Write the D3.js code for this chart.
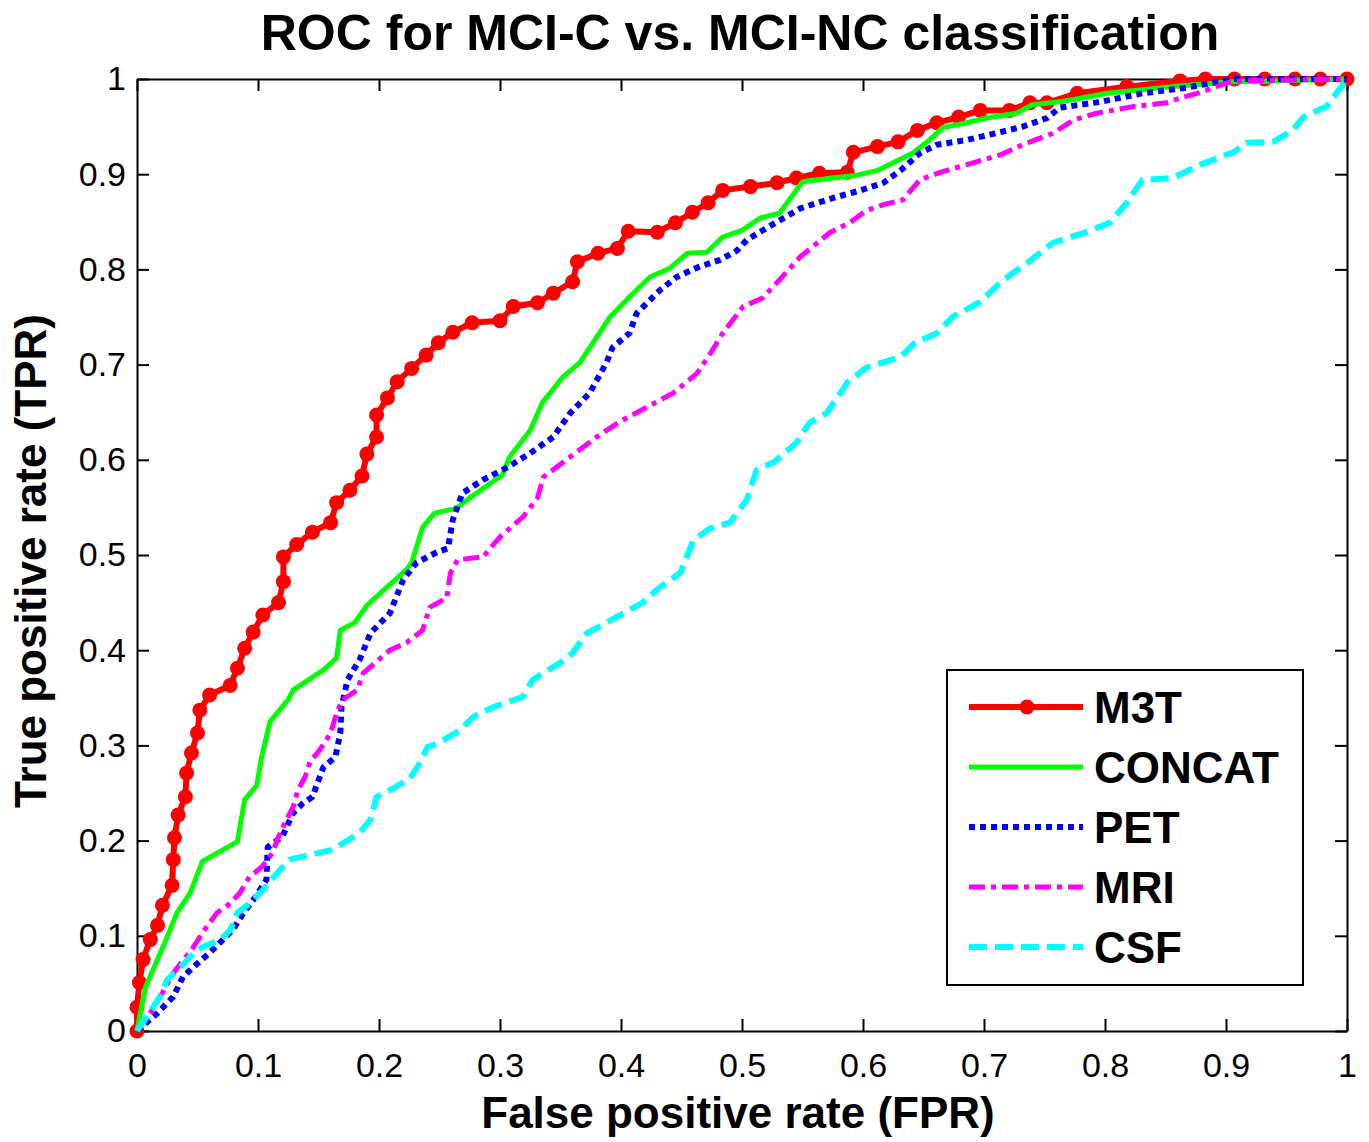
<!DOCTYPE html>
<html>
<head>
<meta charset="utf-8">
<script src="https://cdn.jsdelivr.net/npm/d3@7"></script>
<style>
  body { margin: 0; background: #fff; }
  svg text { font-family: "Liberation Sans", Arial, sans-serif; fill: #000; }
</style>
</head>
<body>
<div id="roc-chart"></div>
<script>
// Series names and colours (legend order)
const seriesNames = ["M3T", "CONCAT", "PET", "MRI", "CSF"];
const seriesColors = ["#ff0000", "#00ff00", "#0000ff", "#ff00ff", "#00ffff"];

// Axis ticks
const tickValues = [0, 0.1, 0.2, 0.3, 0.4, 0.5, 0.6, 0.7, 0.8, 0.9, 1];
const tickLabels = ["0", "0.1", "0.2", "0.3", "0.4", "0.5", "0.6", "0.7", "0.8", "0.9", "1"];

// M3T
const m3tFpr = [0, 0, 0.002, 0.005, 0.011, 0.017, 0.021, 0.029, 0.030, 0.031, 0.034, 0.040, 0.041, 0.045, 0.050, 0.052,
  0.060, 0.077, 0.083, 0.089, 0.096, 0.104, 0.117, 0.121, 0.121, 0.132, 0.145, 0.160, 0.165, 0.176, 0.186, 0.190,
  0.198, 0.198, 0.207, 0.215, 0.227, 0.239, 0.249, 0.261, 0.277, 0.300, 0.311, 0.331, 0.344, 0.360, 0.364, 0.381,
  0.397, 0.406, 0.430, 0.445, 0.459, 0.472, 0.484, 0.507, 0.529, 0.545, 0.564, 0.587, 0.592, 0.612, 0.629, 0.645,
  0.661, 0.679, 0.697, 0.721, 0.738, 0.752, 0.777, 0.818, 0.862, 0.883, 0.907, 0.932, 0.957, 0.978, 1];
const m3tTpr = [0, 0.025, 0.051, 0.075, 0.096, 0.111, 0.132, 0.153, 0.180, 0.203, 0.227, 0.246, 0.271, 0.292, 0.313, 0.337,
  0.353, 0.363, 0.381, 0.402, 0.419, 0.437, 0.450, 0.472, 0.498, 0.511, 0.524, 0.534, 0.555, 0.568, 0.583, 0.606,
  0.624, 0.647, 0.665, 0.682, 0.696, 0.710, 0.723, 0.734, 0.744, 0.746, 0.761, 0.765, 0.775, 0.787, 0.808, 0.817,
  0.822, 0.840, 0.839, 0.849, 0.860, 0.870, 0.883, 0.887, 0.891, 0.896, 0.901, 0.902, 0.923, 0.929, 0.934, 0.946,
  0.954, 0.960, 0.967, 0.967, 0.975, 0.975, 0.985, 0.992, 0.998, 1, 1, 1, 1, 1, 1];

// CONCAT
const concatFpr = [0, 0.007, 0.017, 0.025, 0.033, 0.044, 0.054, 0.083, 0.089, 0.099, 0.103, 0.110, 0.125, 0.129, 0.154,
  0.165, 0.168, 0.180, 0.190, 0.223, 0.227, 0.236, 0.246, 0.264, 0.275, 0.302, 0.308, 0.325, 0.335, 0.352, 0.366,
  0.391, 0.407, 0.424, 0.440, 0.455, 0.471, 0.484, 0.500, 0.515, 0.531, 0.550, 0.575, 0.595, 0.612, 0.625, 0.641,
  0.655, 0.666, 0.686, 0.702, 0.727, 0.740, 0.763, 0.802, 0.856, 0.906, 1];
const concatTpr = [0, 0.046, 0.075, 0.099, 0.124, 0.145, 0.178, 0.199, 0.243, 0.258, 0.288, 0.325, 0.348, 0.358, 0.379,
  0.392, 0.421, 0.429, 0.447, 0.485, 0.492, 0.529, 0.544, 0.549, 0.560, 0.584, 0.603, 0.631, 0.660, 0.687, 0.702,
  0.750, 0.771, 0.792, 0.801, 0.817, 0.818, 0.834, 0.841, 0.854, 0.859, 0.892, 0.896, 0.899, 0.904, 0.912, 0.922,
  0.936, 0.949, 0.954, 0.959, 0.964, 0.973, 0.976, 0.985, 0.992, 0.997, 1];

// PET
const petFpr = [0, 0.017, 0.030, 0.038, 0.050, 0.060, 0.071, 0.079, 0.088, 0.098, 0.107, 0.108, 0.120, 0.129, 0.137,
  0.145, 0.154, 0.164, 0.168, 0.169, 0.174, 0.184, 0.193, 0.209, 0.220, 0.231, 0.248, 0.257, 0.261, 0.269, 0.286,
  0.306, 0.325, 0.344, 0.358, 0.374, 0.388, 0.393, 0.407, 0.413, 0.432, 0.446, 0.465, 0.482, 0.496, 0.504, 0.529,
  0.548, 0.575, 0.598, 0.617, 0.631, 0.647, 0.661, 0.686, 0.713, 0.732, 0.752, 0.763, 0.796, 0.831, 0.868, 0.906, 1];
const petTpr = [0, 0.019, 0.036, 0.057, 0.071, 0.082, 0.096, 0.106, 0.124, 0.141, 0.159, 0.193, 0.204, 0.229, 0.239,
  0.246, 0.277, 0.288, 0.313, 0.340, 0.369, 0.390, 0.418, 0.439, 0.474, 0.492, 0.503, 0.507, 0.537, 0.565, 0.579,
  0.592, 0.607, 0.624, 0.649, 0.670, 0.702, 0.718, 0.733, 0.754, 0.778, 0.792, 0.803, 0.810, 0.820, 0.831, 0.850,
  0.864, 0.875, 0.883, 0.891, 0.904, 0.922, 0.931, 0.936, 0.944, 0.950, 0.959, 0.970, 0.976, 0.985, 0.991, 1, 1];

// MRI
const mriFpr = [0, 0.011, 0.021, 0.029, 0.036, 0.045, 0.054, 0.066, 0.077, 0.085, 0.093, 0.103, 0.112, 0.116, 0.122,
  0.129, 0.133, 0.139, 0.143, 0.151, 0.160, 0.165, 0.170, 0.182, 0.187, 0.209, 0.223, 0.236, 0.242, 0.256, 0.259,
  0.265, 0.286, 0.300, 0.319, 0.331, 0.336, 0.358, 0.380, 0.399, 0.421, 0.443, 0.463, 0.474, 0.484, 0.501, 0.517,
  0.531, 0.548, 0.573, 0.589, 0.603, 0.617, 0.633, 0.647, 0.664, 0.691, 0.713, 0.732, 0.757, 0.774, 0.793, 0.823,
  0.851, 0.862, 0.879, 0.901, 0.912, 1];
const mriTpr = [0, 0.019, 0.040, 0.059, 0.071, 0.085, 0.103, 0.124, 0.134, 0.145, 0.162, 0.172, 0.187, 0.201, 0.218,
  0.235, 0.253, 0.267, 0.283, 0.295, 0.313, 0.334, 0.348, 0.358, 0.376, 0.400, 0.408, 0.421, 0.445, 0.455, 0.481,
  0.495, 0.498, 0.519, 0.540, 0.560, 0.582, 0.603, 0.624, 0.640, 0.655, 0.670, 0.691, 0.712, 0.733, 0.761, 0.770,
  0.789, 0.813, 0.839, 0.849, 0.862, 0.868, 0.873, 0.894, 0.902, 0.912, 0.920, 0.931, 0.943, 0.957, 0.964, 0.971,
  0.975, 0.980, 0.986, 0.996, 0.998, 1];

// CSF
const csfFpr = [0, 0.008, 0.019, 0.025, 0.036, 0.044, 0.054, 0.069, 0.077, 0.083, 0.093, 0.104, 0.116, 0.126, 0.143,
  0.160, 0.170, 0.184, 0.193, 0.198, 0.212, 0.226, 0.234, 0.240, 0.250, 0.267, 0.278, 0.294, 0.319, 0.327, 0.350,
  0.360, 0.372, 0.388, 0.418, 0.432, 0.449, 0.460, 0.474, 0.490, 0.504, 0.512, 0.527, 0.545, 0.556, 0.570, 0.587,
  0.603, 0.631, 0.643, 0.661, 0.674, 0.697, 0.716, 0.736, 0.757, 0.782, 0.804, 0.818, 0.831, 0.856, 0.879, 0.906,
  0.917, 0.939, 0.955, 0.964, 0.983, 1];
const csfTpr = [0, 0.015, 0.036, 0.054, 0.067, 0.078, 0.088, 0.096, 0.106, 0.124, 0.134, 0.148, 0.166, 0.180, 0.185,
  0.190, 0.197, 0.208, 0.222, 0.246, 0.255, 0.266, 0.282, 0.298, 0.303, 0.316, 0.330, 0.340, 0.351, 0.369, 0.387,
  0.397, 0.418, 0.429, 0.450, 0.466, 0.481, 0.516, 0.528, 0.534, 0.558, 0.589, 0.598, 0.618, 0.639, 0.649, 0.681,
  0.697, 0.708, 0.723, 0.733, 0.750, 0.766, 0.789, 0.807, 0.828, 0.838, 0.849, 0.870, 0.894, 0.896, 0.910, 0.923,
  0.933, 0.934, 0.946, 0.960, 0.971, 1];

const seriesFpr = [m3tFpr, concatFpr, petFpr, mriFpr, csfFpr];
const seriesTpr = [m3tTpr, concatTpr, petTpr, mriTpr, csfTpr];

// Chart dimensions
const svgWidth = 1369;
const svgHeight = 1142;
const margin = { top: 79, right: 22, bottom: 111, left: 137 };
const width = svgWidth - margin.left - margin.right;
const height = svgHeight - margin.top - margin.bottom;

// line styles per series
const dashes = [null, null, "6,5", "16,6,5,6", "18,8"];
const widths = [6, 5, 6, 5, 6];

const svg = d3.select("#roc-chart")
  .append("svg")
  .attr("width", svgWidth)
  .attr("height", svgHeight);

const g = svg.append("g")
  .attr("transform", "translate(" + margin.left + "," + margin.top + ")");

const xScale = d3.scaleLinear().domain([0, 1]).range([0, width]);
const yScale = d3.scaleLinear().domain([0, 1]).range([height, 0]);

const fmt = d => tickLabels[tickValues.indexOf(d)];

// Axes: ticks point inward on all four sides
const xAxis = d3.axisBottom(xScale).tickValues(tickValues).tickFormat(fmt)
  .tickSizeInner(-12).tickSizeOuter(0).tickPadding(22);
const yAxis = d3.axisLeft(yScale).tickValues(tickValues).tickFormat(fmt)
  .tickSizeInner(-12).tickSizeOuter(0).tickPadding(11);
const xTop = d3.axisTop(xScale).tickValues(tickValues).tickFormat("")
  .tickSizeInner(-12).tickSizeOuter(0);
const yRight = d3.axisRight(yScale).tickValues(tickValues).tickFormat("")
  .tickSizeInner(-12).tickSizeOuter(0);

g.append("g").attr("transform", "translate(0," + height + ")").call(xAxis);
g.append("g").call(yAxis);
g.append("g").call(xTop);
g.append("g").attr("transform", "translate(" + width + ",0)").call(yRight);

g.selectAll(".domain").attr("stroke", "#000").attr("stroke-width", 2);
g.selectAll(".tick line").attr("stroke", "#000").attr("stroke-width", 2);
g.selectAll(".tick text")
  .style("font-size", "34px")
  .style("font-family", "'Liberation Sans', Arial, sans-serif")
  .attr("fill", "#000");

// Curves
const line = d3.line()
  .x(d => xScale(d[0]))
  .y(d => yScale(d[1]));

seriesNames.forEach(function (name, i) {
  const pts = seriesFpr[i].map((f, k) => [f, seriesTpr[i][k]]);
  const path = g.append("path")
    .datum(pts)
    .attr("d", line)
    .attr("fill", "none")
    .attr("stroke", seriesColors[i])
    .attr("stroke-width", widths[i])
    .attr("stroke-linejoin", "round");
  if (dashes[i]) path.attr("stroke-dasharray", dashes[i]);

  if (name === "M3T") {
    g.selectAll(".m3t-dot")
      .data(pts)
      .enter()
      .append("circle")
      .attr("class", "m3t-dot")
      .attr("cx", d => xScale(d[0]))
      .attr("cy", d => yScale(d[1]))
      .attr("r", 7.5)
      .attr("fill", seriesColors[i]);
  }
});

// Title and axis labels
svg.append("text")
  .attr("x", 740).attr("y", 50)
  .attr("text-anchor", "middle")
  .style("font-size", "50px").style("font-weight", "bold")
  .text("ROC for MCI-C vs. MCI-NC classification");

svg.append("text")
  .attr("x", 738).attr("y", 1128)
  .attr("text-anchor", "middle")
  .style("font-size", "44px").style("font-weight", "bold")
  .text("False positive rate (FPR)");

svg.append("text")
  .attr("transform", "translate(46,561) rotate(-90)")
  .attr("text-anchor", "middle")
  .style("font-size", "44px").style("font-weight", "bold")
  .text("True positive rate (TPR)");

// Legend
const legend = svg.append("g").attr("transform", "translate(947,670)");
legend.append("rect")
  .attr("width", 356).attr("height", 315)
  .attr("fill", "#fff").attr("stroke", "#000").attr("stroke-width", 2);

seriesNames.forEach(function (name, i) {
  const ly = 37 + i * 60;
  const row = legend.append("g").attr("transform", "translate(0," + ly + ")");
  const ln = row.append("line")
    .attr("x1", 22).attr("x2", 136).attr("y1", 0).attr("y2", 0)
    .attr("stroke", seriesColors[i])
    .attr("stroke-width", widths[i]);
  if (dashes[i]) ln.attr("stroke-dasharray", dashes[i]);
  if (name === "M3T") {
    row.append("circle").attr("cx", 80).attr("cy", 0).attr("r", 7.5).attr("fill", seriesColors[i]);
  }
  row.append("text")
    .attr("x", 147).attr("y", 16)
    .style("font-size", "44px").style("font-weight", "bold")
    .text(name);
});
</script>
</body>
</html>
